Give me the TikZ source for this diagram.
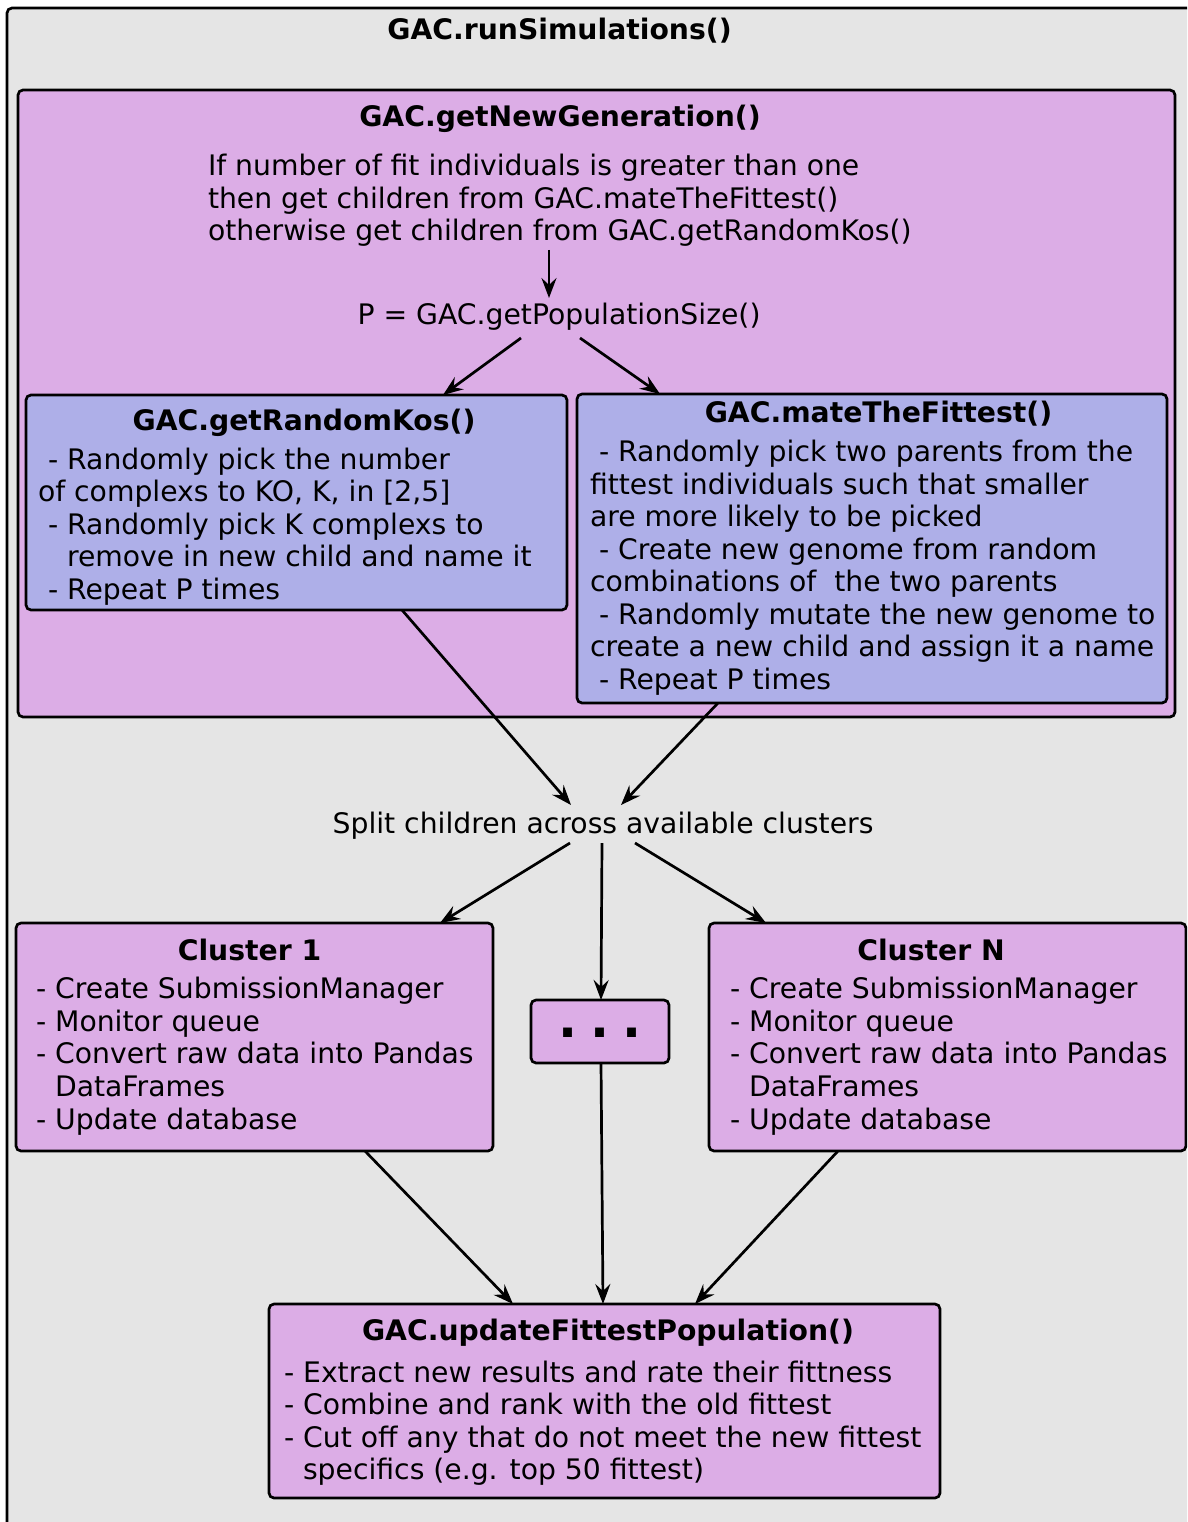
\documentclass[tikz,border=0pt]{standalone}
\usepackage{fontspec}
\setmainfont{DejaVu Sans}
\usetikzlibrary{arrows.meta,calc}
\definecolor{bggray}{HTML}{E5E5E5}
\definecolor{plum}{HTML}{DCADE6}
\definecolor{lav}{HTML}{AEAFE8}
\begin{document}
\begin{tikzpicture}[x=1pt,y=-1pt,
  font=\fontsize{28.25pt}{32.5pt}\selectfont,
  box/.style={draw=black, line width=2.7pt, rounded corners=5pt, inner sep=0pt, outer sep=0pt},
  ln/.style={anchor=base west, inner sep=0pt, outer sep=0pt},
  ttl/.style={anchor=base, inner sep=0pt, outer sep=0pt, font=\fontsize{28.25pt}{32.5pt}\selectfont\bfseries},
  ctr/.style={anchor=base, inner sep=0pt, outer sep=0pt},
  arr/.style={-{Stealth[length=20pt,width=15pt,inset=7pt]}, line width=2.7pt}]
\useasboundingbox[fill=white] (0,0) rectangle (1187,1522);
\clip (0,0) rectangle (1187,1522);

% outer container
\node[box, fill=bggray, minimum width=1200pt, minimum height=1540pt] (sim) at (607,778) {};
\node[ttl] (simt) at (559.5,40) {GAC.runSimulations()};

% getNewGeneration
\node[box, fill=plum, minimum width=1157pt, minimum height=627pt] (gen) at (596.5,403.5) {};
\node[ttl] (gent) at (560,127) {GAC.getNewGeneration()};
\node[ln] (cond1) at (208,176) {If number of fit individuals is greater than one};
\node[ln] (cond2) at (208,209) {then get children from GAC.mateTheFittest()};
\node[ln] (cond3) at (208,241) {otherwise get children from GAC.getRandomKos()};
\node[ctr] (pop) at (559,324) {P = GAC.getPopulationSize()};

% getRandomKos
\node[box, fill=lav, minimum width=541pt, minimum height=215pt] (rk) at (296.5,502.5) {};
\node[ttl] (rkt) at (304,430) {GAC.getRandomKos()};
\node[ln] (rk1) at (48,469) {- Randomly pick the number};
\node[ln] (rk2) at (38,501) {of complexs to KO, K, in [2,5]};
\node[ln] (rk3) at (48,534) {- Randomly pick K complexs to};
\node[ln] (rk4) at (67,566) {remove in new child and name it};
\node[ln] (rk5) at (48,599) {- Repeat P times};

% mateTheFittest
\node[box, fill=lav, minimum width=590pt, minimum height=309pt] (mf) at (872,548.5) {};
\node[ttl] (mft) at (878.5,422) {GAC.mateTheFittest()};
\node[ln] (mf1) at (599,461) {- Randomly pick two parents from the};
\node[ln] (mf2) at (590,494) {fittest individuals such that smaller};
\node[ln] (mf3) at (590,526) {are more likely to be picked};
\node[ln] (mf4) at (599,559) {- Create new genome from random};
\node[ln] (mf5) at (590,591) {combinations of\ \ the two parents};
\node[ln] (mf6) at (599,624) {- Randomly mutate the new genome to};
\node[ln] (mf7) at (590,656) {create a new child and assign it a name};
\node[ln] (mf8) at (599,689) {- Repeat P times};

% split
\node[ctr] (split) at (603,833) {Split children across available clusters};

% Cluster 1
\node[box, fill=plum, minimum width=477pt, minimum height=228pt] (c1) at (254.5,1037) {};
\node[ttl] (c1t) at (249.5,960) {Cluster 1};
\node[ln] (c1a) at (36,998) {- Create SubmissionManager};
\node[ln] (c1b) at (36,1031) {- Monitor queue};
\node[ln] (c1c) at (36,1063) {- Convert raw data into Pandas};
\node[ln] (c1d) at (55,1096) {DataFrames};
\node[ln] (c1e) at (36,1129) {- Update database};

% dots
\node[box, fill=plum, minimum width=138pt, minimum height=63pt] (dots) at (600,1031.5) {};
\node[ctr, font=\fontsize{50pt}{50pt}\selectfont\bfseries] (dotst) at (600,1037) {.\hspace{13pt}.\hspace{13pt}.};

% Cluster N
\node[box, fill=plum, minimum width=477pt, minimum height=228pt] (cN) at (947.5,1037) {};
\node[ttl] (cNt) at (931,960) {Cluster N};
\node[ln] (cNa) at (730,998) {- Create SubmissionManager};
\node[ln] (cNb) at (730,1031) {- Monitor queue};
\node[ln] (cNc) at (730,1063) {- Convert raw data into Pandas};
\node[ln] (cNd) at (749,1096) {DataFrames};
\node[ln] (cNe) at (730,1129) {- Update database};

% updateFittestPopulation
\node[box, fill=plum, minimum width=671pt, minimum height=194pt] (up) at (604.5,1401) {};
\node[ttl] (upt) at (608,1340) {GAC.updateFittestPopulation()};
\node[ln] (up1) at (284,1382) {- Extract new results and rate their fittness};
\node[ln] (up2) at (284,1414) {- Combine and rank with the old fittest};
\node[ln] (up3) at (284,1447) {- Cut off any that do not meet the new fittest};
\node[ln] (up4) at (303,1479) {specifics (e.g. top 50 fittest)};

% connector end points
\coordinate (a1s) at (549,250);
\coordinate (a1e) at (549,298);
\coordinate (a2s) at (521,338);
\coordinate (a3s) at (580,338);
\coordinate (a4e) at (571,805);
\coordinate (a5e) at (621,805);
\coordinate (a6s) at (570,843);
\coordinate (a7s) at (602,843);
\coordinate (a8s) at (635,843);

\draw[arr] (a1s) -- (a1e);
\draw[arr] (a2s) -- ($(rk.north west)+(417,0)$);
\draw[arr] (a3s) -- ($(mf.north west)+(83,0)$);
\draw[arr] ($(rk.south west)+(376,0)$) -- (a4e);
\draw[arr] ($(mf.south west)+(141,0)$) -- (a5e);
\draw[arr] (a6s) -- ($(c1.north west)+(424,0)$);
\draw[arr] (a7s) -- ($(dots.north west)+(70,0)$);
\draw[arr] (a8s) -- ($(cN.north west)+(57,0)$);
\draw[arr] ($(c1.south west)+(349,0)$) -- ($(up.north west)+(244,0)$);
\draw[arr] ($(dots.south west)+(70,0)$) -- ($(up.north west)+(334,0)$);
\draw[arr] ($(cN.south west)+(129,0)$) -- ($(up.north west)+(426,0)$);
\end{tikzpicture}
\end{document}
